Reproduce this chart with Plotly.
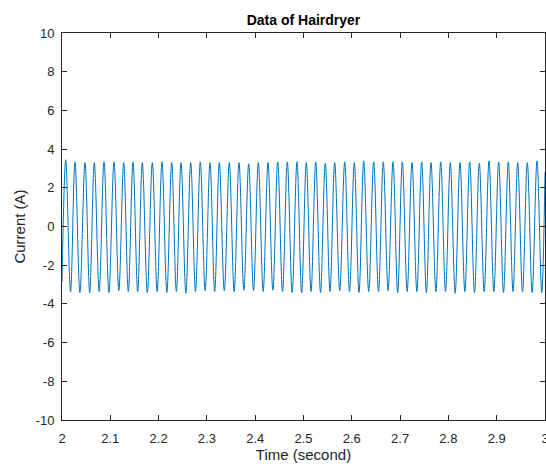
import plotly.graph_objects as go

# ---- data ----
start_t, start_v = 2.0, -2.87
end_t, end_v = 3.0, 2.8

peak_t = [2.0077, 2.0269, 2.0476, 2.0669, 2.0870, 2.1077, 2.1277, 2.1470, 2.1663, 2.1870,
          2.2070, 2.2271, 2.2464, 2.2665, 2.2863, 2.3064, 2.3257, 2.3464, 2.3665, 2.3865,
          2.4064, 2.4265, 2.4466, 2.4665, 2.4865, 2.5058, 2.5253, 2.5451, 2.5646, 2.5853,
          2.6052, 2.6246, 2.6453, 2.6652, 2.6853, 2.7046, 2.7246, 2.7447, 2.7640, 2.7841,
          2.8039, 2.8240, 2.8441, 2.8640, 2.8841, 2.9041, 2.9240, 2.9435, 2.9634, 2.9834]
peak_v = [3.45, 3.34, 3.30, 3.30, 3.34, 3.34, 3.30, 3.34, 3.30, 3.30,
          3.34, 3.30, 3.30, 3.30, 3.34, 3.30, 3.30, 3.30, 3.30, 3.24,
          3.30, 3.30, 3.34, 3.34, 3.34, 3.30, 3.34, 3.27, 3.30, 3.34,
          3.30, 3.39, 3.34, 3.34, 3.34, 3.34, 3.30, 3.34, 3.30, 3.34,
          3.30, 3.30, 3.34, 3.27, 3.39, 3.34, 3.34, 3.30, 3.30, 3.39]
trough_t = [2.0177, 2.0371, 2.0573, 2.0770, 2.0971, 2.1177, 2.1373, 2.1567, 2.1766, 2.1970,
            2.2171, 2.2368, 2.2565, 2.2764, 2.2964, 2.3161, 2.3360, 2.3564, 2.3765, 2.3965,
            2.4165, 2.4366, 2.4566, 2.4765, 2.4962, 2.5156, 2.5352, 2.5549, 2.5750, 2.5953,
            2.6149, 2.6350, 2.6553, 2.6752, 2.6950, 2.7146, 2.7347, 2.7544, 2.7741, 2.7940,
            2.8140, 2.8341, 2.8541, 2.8741, 2.8941, 2.9141, 2.9338, 2.9535, 2.9734, 2.9933]
trough_v = [-3.38, -3.41, -3.41, -3.36, -3.41, -3.31, -3.36, -3.36, -3.41, -3.36,
            -3.41, -3.36, -3.45, -3.36, -3.31, -3.36, -3.31, -3.36, -3.29, -3.31,
            -3.36, -3.29, -3.36, -3.41, -3.43, -3.36, -3.41, -3.36, -3.31, -3.36,
            -3.41, -3.36, -3.36, -3.31, -3.41, -3.36, -3.36, -3.41, -3.36, -3.36,
            -3.45, -3.36, -3.41, -3.36, -3.36, -3.41, -3.36, -3.38, -3.41, -3.41]

x_ticks = [2.0, 2.1, 2.2, 2.3, 2.4, 2.5, 2.6, 2.7, 2.8, 2.9, 3.0]
x_tick_labels = ["2", "2.1", "2.2", "2.3", "2.4", "2.5", "2.6", "2.7", "2.8", "2.9", "3"]
y_ticks = [-10, -8, -6, -4, -2, 0, 2, 4, 6, 8, 10]
y_tick_labels = ["-10", "-8", "-6", "-4", "-2", "0", "2", "4", "6", "8", "10"]

# merge extrema in time order
pts = [(start_t, start_v)] + list(zip(peak_t, peak_v)) + list(zip(trough_t, trough_v)) + [(end_t, end_v)]
pts.sort(key=lambda p: p[0])
t = [p[0] for p in pts]
v = [p[1] for p in pts]

AX = "#262626"
FONT = "Liberation Sans, Arial, Helvetica, sans-serif"

fig = go.Figure()
fig.add_trace(go.Scatter(x=t, y=v, mode="lines",
                         line=dict(color="#0072BD", width=1, shape="spline", smoothing=1),
                         hoverinfo="skip", showlegend=False))

axis_common = dict(showgrid=False, zeroline=False, showline=True, linecolor=AX, linewidth=1,
                   mirror="ticks", ticks="inside", ticklen=5, tickwidth=1, tickcolor=AX,
                   ticklabeloverflow="allow", automargin=False,
                   tickfont=dict(family=FONT, size=13, color=AX))

fig.update_layout(
    width=546, height=467,
    margin=dict(l=62, r=1, t=33, b=47, autoexpand=False),
    paper_bgcolor="white", plot_bgcolor="white",
    font=dict(family=FONT, color=AX),
    title=dict(text="<b>Data of Hairdryer</b>", x=0.5, xref="paper", xanchor="center",
               y=1 - 20 / 467, yref="container", yanchor="middle",
               font=dict(family=FONT, size=14, color="black")),
    xaxis=dict(range=[2, 3], tickvals=x_ticks, ticktext=x_tick_labels,
               ticklabelstandoff=6,
               title=dict(text="Time (second)", font=dict(family=FONT, size=15, color=AX), standoff=3),
               **axis_common),
    yaxis=dict(range=[-10, 10], tickvals=y_ticks, ticktext=y_tick_labels,
               ticklabelstandoff=4,
               title=dict(text="Current (A)", font=dict(family=FONT, size=15, color=AX), standoff=6),
               **axis_common),
)

fig.write_html("out.html")
